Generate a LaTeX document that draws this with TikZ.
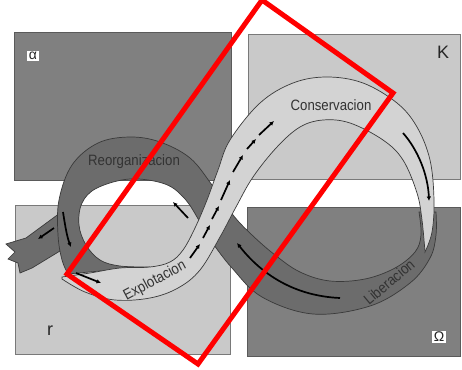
\documentclass[tikz,border=0pt]{standalone}
\usepackage{fontspec}
\setmainfont{Liberation Sans}
\usetikzlibrary{arrows.meta}
\definecolor{boxdark}{HTML}{808080}
\definecolor{boxlight}{HTML}{C9C9C9}
\definecolor{banddark}{HTML}{6C6C6C}
\definecolor{bandlight}{HTML}{D3D3D3}
\definecolor{edgecol}{HTML}{3A3A3A}
\begin{document}
\begin{tikzpicture}[x=1pt,y=-1pt,
  dbox/.style={fill=boxdark,draw=boxdark!70!black,line width=0.8},
  lbox/.style={fill=boxlight,draw=boxlight!60!black,line width=0.8},
  bandedge/.style={draw=edgecol,line width=0.7},
  lab/.style={font=\fontsize{15}{15}\selectfont,xscale=0.88,text=black!80,inner sep=0pt},
  corner/.style={font=\fontsize{18}{18}\selectfont,text=black!85,inner sep=0pt},
  arr/.style={line width=1.7,-{Latex[length=4.5pt,width=4.5pt]},black}]
\useasboundingbox (0,0) rectangle (462,369);
\fill[white] (0,0) rectangle (462,369);
% boxes
\draw[dbox] (14,32) rectangle (231,180);
\draw[lbox] (248,34) rectangle (460,179);
\draw[lbox] (15,205) rectangle (230,354);
\draw[dbox] (247,207) rectangle (460,356);
% corner labels
\node[corner,fill=white,inner sep=1.5pt,font=\fontsize{14}{14}\selectfont] (alpha) at (33,56) {α};
\node[corner] (kappa) at (443,52) {K};
\node[corner] (rr) at (50,331) {r};
\node[corner,fill=white,inner sep=1.5pt,font=\fontsize{14}{14}\selectfont] (omega) at (439,337) {Ω};
% escape band
\filldraw[fill=banddark,bandedge] (60,213) -- (26,238) -- (6,244) -- (15,252) -- (8,259) -- (18,263) -- (20,273) -- (32,268) -- (60,251) -- cycle;
% dark band (release + reorganization)
\filldraw[fill=banddark,bandedge]
  plot[smooth,tension=0.6] coordinates {(419,212) (421,235) (415,252) (395,268) (365,279) (330,281) (300,272) (275,255) (252,235) (233,215) (212,185) (190,158) (160,142) (130,137) (98,143) (72,165) (59,200) (58,235) (62,260) (68,274)}
  -- (100,271) -- (150,268)
  -- plot[smooth,tension=0.6] coordinates {(150,267) (120,266) (100,260) (86,245) (79,225) (82,203) (97,188) (130,179) (165,184) (185,199) (200,222) (212,242) (232,268) (262,297) (313,314) (370,306) (410,283) (430,258) (436,235) (436,212)}
  -- cycle;
% light band (exploitation + conservation)
\filldraw[fill=bandlight,bandedge]
  plot[smooth,tension=0.6] coordinates {(62,277) (90,273) (120,268) (150,267) (170,262) (183,250) (195,228) (207,200) (218,170) (230,140) (260,103) (293,83) (327,77) (363,83) (397,103) (417,127) (430,160) (434,200) (432,232) (425,252)}
  -- plot[smooth,tension=0.6] coordinates {(425,252) (422,220) (417,193) (403,160) (383,140) (350,123) (323,120) (300,127) (277,147) (253,177) (236,207) (220,237) (200,270) (178,288) (150,298) (115,300) (85,292) (62,279)}
  -- cycle;
% phase labels
\node[lab] (reorg) at (134,162) {Reorganizacion};
\node[lab] (cons) at (331,105) {Conservacion};
\node[rotate=28,lab] (explo) at (155,281) {Explotacion};
\node[rotate=40,lab] (liber) at (389,282) {Liberacion};
% arrows
\coordinate (e1a) at (54,228); \coordinate (e1b) at (38,239);
\draw[arr] (e1a) -- (e1b);
\coordinate (l1a) at (63,212); \coordinate (l1b) at (71,247);
\draw[arr] (l1a) .. controls (65,225) and (67,237) .. (l1b);
\coordinate (x1a) at (76,273); \coordinate (x1b) at (101,283);
\draw[arr] (x1a) -- (x1b);
\coordinate (d1a) at (190,258); \coordinate (d1b) at (200,244);
\coordinate (d2a) at (203,238); \coordinate (d2b) at (210,225);
\coordinate (d3a) at (212,219); \coordinate (d3b) at (219,206);
\coordinate (d4a) at (221,200); \coordinate (d4b) at (230,180);
\coordinate (d5a) at (233,172); \coordinate (d5b) at (243,155);
\coordinate (d6a) at (247,149); \coordinate (d6b) at (256,139);
\coordinate (d7a) at (259,135); \coordinate (d7b) at (274,121);
\foreach \i in {1,...,7} \draw[arr] (d\i a) -- (d\i b);
\coordinate (c1a) at (403,133); \coordinate (c1b) at (429,201);
\draw[arr] (c1a) .. controls (418,150) and (428,175) .. (c1b);
\coordinate (r1a) at (340,298); \coordinate (r1b) at (237,243);
\draw[arr] (r1a) .. controls (295,296) and (262,275) .. (r1b);
\coordinate (o1a) at (188,218); \coordinate (o1b) at (173,202);
\draw[arr] (o1a) -- (o1b);
% red frame
\coordinate (q1) at (262,0); \coordinate (q2) at (393,93);
\coordinate (q3) at (198,364); \coordinate (q4) at (67,274);
\draw[red,line width=5,line join=miter] (q1) -- (q2) -- (q3) -- (q4) -- cycle;
\end{tikzpicture}
\end{document}
